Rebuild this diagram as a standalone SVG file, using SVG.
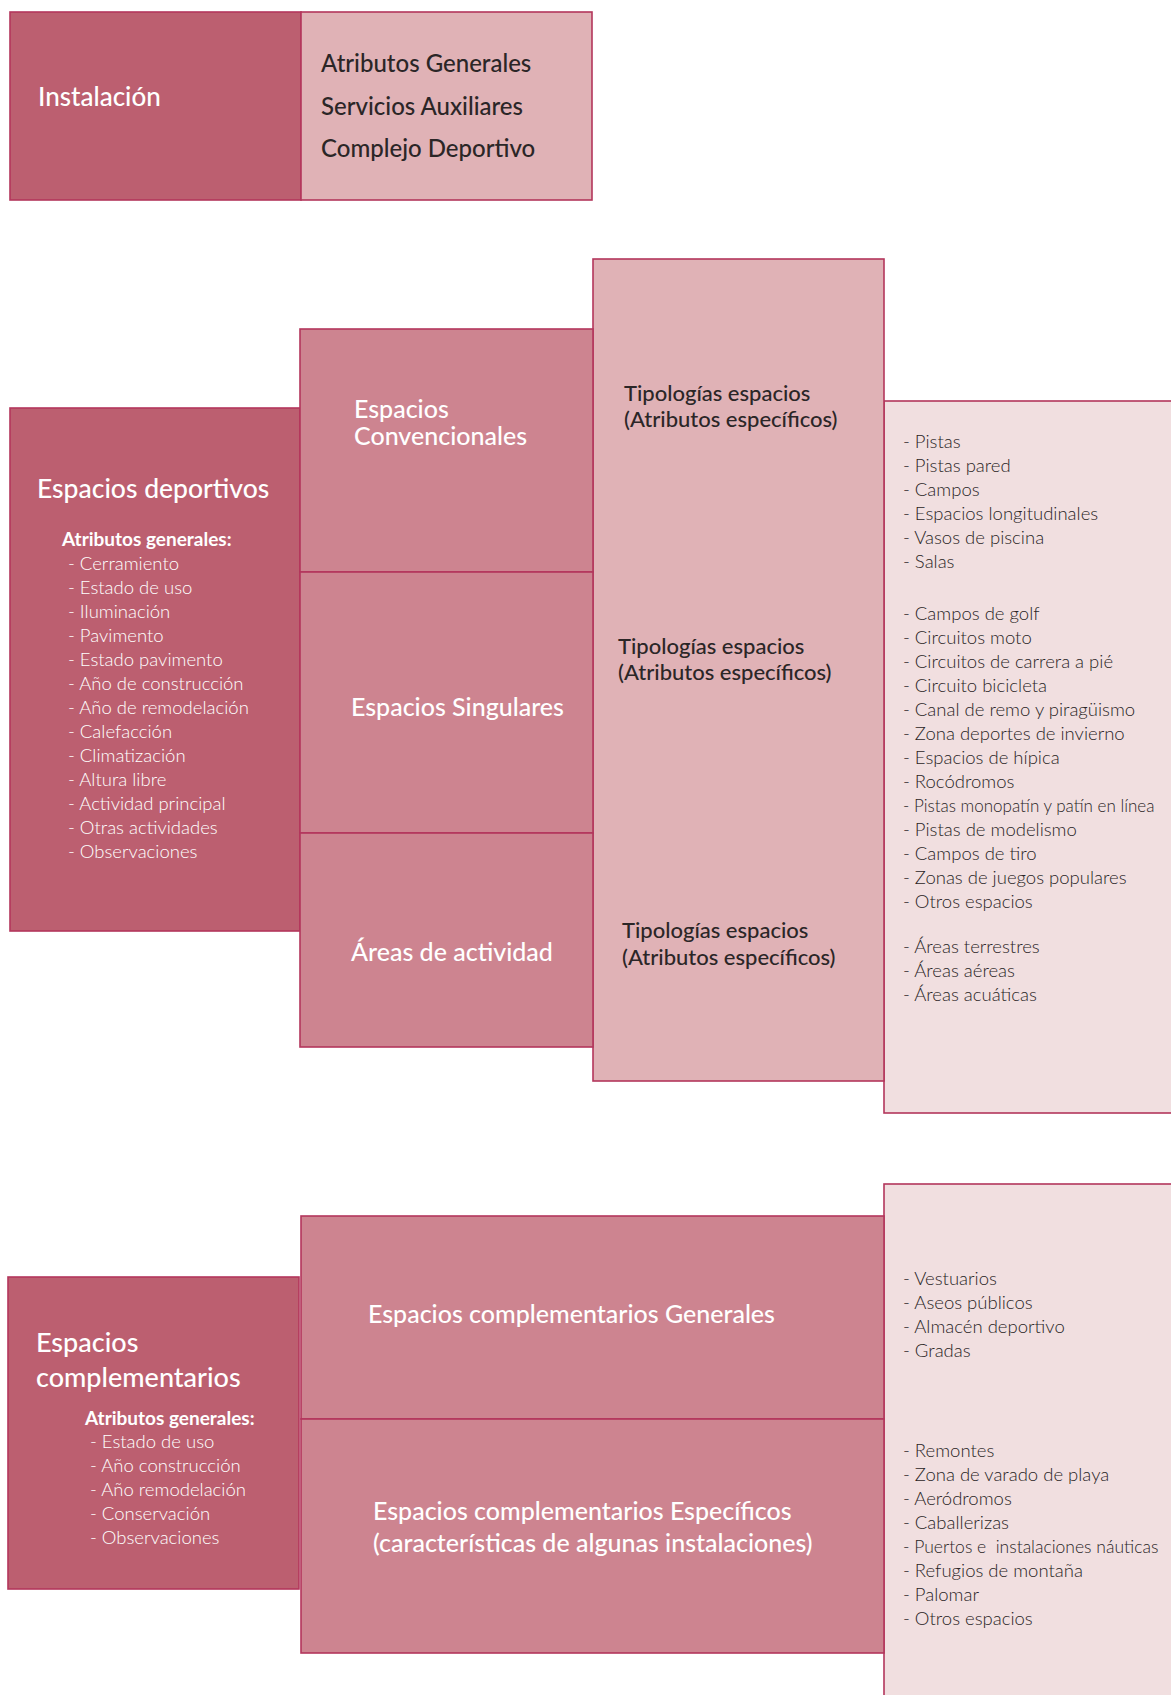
<svg xmlns="http://www.w3.org/2000/svg" width="1171" height="1695" viewBox="0 0 1171 1695">
<style>
.b{stroke:#b3365c;stroke-width:1.6}
.dk{fill:#bc5f70}.md{fill:#cd8490}.lt{fill:#e0b2b6}.xl{fill:#f1dfe0}
text{font-family:Lato,"Open Sans","Liberation Sans",sans-serif}
.hw{fill:#ffffff;font-size:25px;font-weight:500}
.hs{fill:#ffffff;font-size:19px;font-weight:700}
.lw{fill:#ffffff;font-size:18.5px;font-weight:300}
.hd{fill:#2b2627;font-size:24px;font-weight:500}
.td{fill:#2b2627;font-size:22px;font-weight:500}
.ld{fill:#2a2526;font-size:18.5px;font-weight:300}
</style>
<rect width="1171" height="1695" fill="#ffffff"/>

<g id="instalacion">
<rect class="b dk" x="10" y="12" width="291" height="188"/>
<text class="hw" x="38" y="106" style="font-size:26px">Instalación</text>
</g>
<g id="atributos-instalacion">
<rect class="b lt" x="301" y="12" width="291" height="188"/>
<text class="hd" x="321" y="72">Atributos Generales</text>
<text class="hd" x="321" y="115">Servicios Auxiliares</text>
<text class="hd" x="321" y="157">Complejo Deportivo</text>
</g>

<g id="lista-deportivos">
<rect class="b xl" x="884" y="401" width="300" height="712"/>
<g class="ld">
<text x="903" y="448">- Pistas</text>
<text x="903" y="472">- Pistas pared</text>
<text x="903" y="496">- Campos</text>
<text x="903" y="520">- Espacios longitudinales</text>
<text x="903" y="544">- Vasos de piscina</text>
<text x="903" y="568">- Salas</text>
<text x="903" y="620">- Campos de golf</text>
<text x="903" y="644">- Circuitos moto</text>
<text x="903" y="668">- Circuitos de carrera a pié</text>
<text x="903" y="692">- Circuito bicicleta</text>
<text x="903" y="716">- Canal de remo y piragüismo</text>
<text x="903" y="740">- Zona deportes de invierno</text>
<text x="903" y="764">- Espacios de hípica</text>
<text x="903" y="788">- Rocódromos</text>
<text x="903" y="812" style="font-size:17px">- Pistas monopatín y patín en línea</text>
<text x="903" y="836">- Pistas de modelismo</text>
<text x="903" y="860">- Campos de tiro</text>
<text x="903" y="884">- Zonas de juegos populares</text>
<text x="903" y="908">- Otros espacios</text>
<text x="903" y="953">- Áreas terrestres</text>
<text x="903" y="977">- Áreas aéreas</text>
<text x="903" y="1001">- Áreas acuáticas</text>
</g>
</g>

<g id="tipologias">
<rect class="b lt" x="593" y="259" width="291" height="822"/>
<text class="td" x="624" y="401">Tipologías espacios</text>
<text class="td" x="624" y="427">(Atributos específicos)</text>
<text class="td" x="618" y="654">Tipologías espacios</text>
<text class="td" x="618" y="680">(Atributos específicos)</text>
<text class="td" x="622" y="938">Tipologías espacios</text>
<text class="td" x="622" y="965">(Atributos específicos)</text>
</g>

<g id="espacios-deportivos">
<rect class="b dk" x="10" y="408" width="290" height="523"/>
<text class="hw" x="37" y="498" style="font-size:26.5px">Espacios deportivos</text>
<text class="hs" x="62" y="546">Atributos generales:</text>
<g class="lw">
<text x="68" y="570">- Cerramiento</text>
<text x="68" y="594">- Estado de uso</text>
<text x="68" y="618">- Iluminación</text>
<text x="68" y="642">- Pavimento</text>
<text x="68" y="666">- Estado pavimento</text>
<text x="68" y="690">- Año de construcción</text>
<text x="68" y="714">- Año de remodelación</text>
<text x="68" y="738">- Calefacción</text>
<text x="68" y="762">- Climatización</text>
<text x="68" y="786">- Altura libre</text>
<text x="68" y="810">- Actividad principal</text>
<text x="68" y="834">- Otras actividades</text>
<text x="68" y="858">- Observaciones</text>
</g>
</g>

<g id="espacios-convencionales">
<rect class="b md" x="300" y="329" width="293" height="243"/>
<text class="hw" x="354" y="418">Espacios</text>
<text class="hw" x="354" y="445">Convencionales</text>
</g>
<g id="espacios-singulares">
<rect class="b md" x="300" y="572" width="293" height="261"/>
<text class="hw" x="351" y="716">Espacios Singulares</text>
</g>
<g id="areas-actividad">
<rect class="b md" x="300" y="833" width="293" height="214"/>
<text class="hw" x="351" y="961">Áreas de actividad</text>
</g>

<g id="lista-complementarios">
<rect class="b xl" x="884" y="1184" width="300" height="530"/>
<g class="ld">
<text x="903" y="1285">- Vestuarios</text>
<text x="903" y="1309">- Aseos públicos</text>
<text x="903" y="1333">- Almacén deportivo</text>
<text x="903" y="1357">- Gradas</text>
<text x="903" y="1457">- Remontes</text>
<text x="903" y="1481">- Zona de varado de playa</text>
<text x="903" y="1505">- Aeródromos</text>
<text x="903" y="1529">- Caballerizas</text>
<text x="903" y="1553" xml:space="preserve" style="font-size:17.5px">- Puertos e  instalaciones náuticas</text>
<text x="903" y="1577">- Refugios de montaña</text>
<text x="903" y="1601">- Palomar</text>
<text x="903" y="1625">- Otros espacios</text>
</g>
</g>

<g id="espacios-complementarios">
<rect class="b dk" x="8" y="1277" width="291" height="312"/>
<text class="hw" x="36" y="1352" style="font-size:27px">Espacios</text>
<text class="hw" x="36" y="1387" style="font-size:27px">complementarios</text>
<text class="hs" x="85" y="1425">Atributos generales:</text>
<g class="lw">
<text x="90" y="1448">- Estado de uso</text>
<text x="90" y="1472">- Año construcción</text>
<text x="90" y="1496">- Año remodelación</text>
<text x="90" y="1520">- Conservación</text>
<text x="90" y="1544">- Observaciones</text>
</g>
</g>

<g id="complementarios-generales">
<rect class="b md" x="301" y="1216" width="583" height="203"/>
<text class="hw" x="368" y="1323">Espacios complementarios Generales</text>
</g>
<g id="complementarios-especificos">
<rect class="b md" x="301" y="1419" width="583" height="234"/>
<text class="hw" x="373" y="1520">Espacios complementarios Específicos</text>
<text class="hw" x="373" y="1552">(características de algunas instalaciones)</text>
</g>

<g id="connectors"></g>
</svg>
